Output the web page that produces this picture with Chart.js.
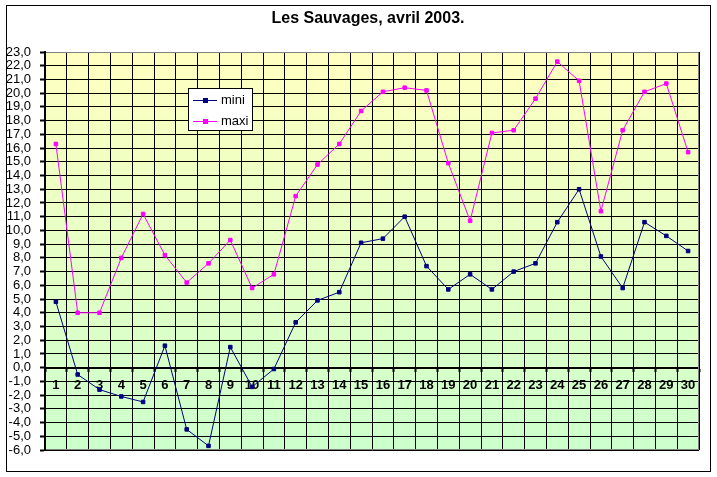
<!DOCTYPE html>
<html>
<head>
<meta charset="utf-8">
<script src="https://cdn.jsdelivr.net/npm/chart.js@4"></script>
<style>
    html, body { margin: 0; padding: 0; background: #fff; }
    #wrap { width: 717px; height: 477px; }
</style>
</head>
<body>
<div id="wrap"><canvas id="chart" width="717" height="477"></canvas></div>
<script>
const titleText = 'Les Sauvages, avril 2003.';
const days = ['1','2','3','4','5','6','7','8','9','10','11','12','13','14','15',
              '16','17','18','19','20','21','22','23','24','25','26','27','28','29','30'];
const mini = [4.8, -0.5, -1.6, -2.1, -2.5, 1.6, -4.5, -5.7, 1.5, -1.4,
              -0.1, 3.3, 4.9, 5.5, 9.1, 9.4, 11.0, 7.4, 5.7, 6.8,
              5.7, 7.0, 7.6, 10.6, 13.0, 8.1, 5.8, 10.6, 9.6, 8.5];
const maxi = [16.3, 4.0, 4.0, 8.0, 11.2, 8.2, 6.2, 7.6, 9.3, 5.8,
              6.8, 12.5, 14.8, 16.3, 18.7, 20.1, 20.4, 20.2, 14.9, 10.7,
              17.1, 17.3, 19.6, 22.3, 20.9, 11.4, 17.3, 20.1, 20.7, 15.7];
const yMin = -6, yMax = 23;

const FONT = "'Liberation Sans', Arial, sans-serif";
Chart.defaults.color = '#000';
Chart.defaults.font.family = FONT;

// background gradient, grey plot frame, boxed legend and outer border
const frame = {
    id: 'frame',
    afterLayout(chart) {
        // centre the title over the plot area like the original
        if (chart.titleBlock) chart.titleBlock.left = 37;
    },
    beforeDraw(chart) {
        const {ctx, chartArea: a} = chart;
        const g = ctx.createLinearGradient(0, a.top, 0, a.bottom);
        g.addColorStop(0, '#FFFFC0');
        g.addColorStop(1, '#CCFFCC');
        ctx.save();
        ctx.fillStyle = g;
        ctx.fillRect(a.left, a.top, a.right - a.left, a.bottom - a.top);
        ctx.restore();
    },
    beforeDatasetsDraw(chart) {
        const {ctx, chartArea: a} = chart;
        ctx.save();
        ctx.strokeStyle = '#808080';
        ctx.lineWidth = 1;
        ctx.beginPath();
        ctx.moveTo(a.left + 1, a.top + 0.5);
        ctx.lineTo(a.right - 0.5, a.top + 0.5);
        ctx.lineTo(a.right - 0.5, a.bottom - 0.5);
        ctx.lineTo(a.left + 1, a.bottom - 0.5);
        ctx.stroke();
        ctx.restore();
    },
    afterDatasetsDraw(chart) {
        const ctx = chart.ctx;
        const x = 188, y = 88, w = 64, h = 42;
        ctx.save();
        ctx.fillStyle = '#fff';
        ctx.fillRect(x, y, w, h);
        ctx.strokeStyle = '#000';
        ctx.lineWidth = 1;
        ctx.strokeRect(x + 0.5, y + 0.5, w, h);
        ctx.font = '13px ' + FONT;
        ctx.textBaseline = 'middle';
        chart.data.datasets.forEach((ds, i) => {
            const ly = y + 12.5 + i * 21;
            ctx.strokeStyle = ds.borderColor;
            ctx.beginPath();
            ctx.moveTo(x + 5, ly);
            ctx.lineTo(x + 29, ly);
            ctx.stroke();
            ctx.fillStyle = ds.borderColor;
            ctx.fillRect(x + 15, ly - 2.5, 5, 5);
            ctx.fillStyle = '#000';
            ctx.fillText(ds.label, x + 33, ly);
        });
        ctx.restore();
    },
    afterDraw(chart) {
        const ctx = chart.ctx;
        ctx.save();
        ctx.strokeStyle = '#000';
        ctx.lineWidth = 1;
        ctx.strokeRect(6.5, 5.5, 704, 466);
        ctx.restore();
    }
};

const lineSet = (label, data, color) => ({
    label, data,
    borderColor: color,
    backgroundColor: color,
    borderWidth: 1,
    tension: 0,
    pointStyle: 'rect',
    pointRadius: 2.5,
    pointBorderWidth: 1,
    pointBackgroundColor: color,
    pointBorderColor: color
});

new Chart(document.getElementById('chart'), {
    type: 'line',
    data: {
        labels: days,
        datasets: [
            lineSet('mini', mini, '#000080'),
            lineSet('maxi', maxi, '#FF00FF')
        ]
    },
    options: {
        responsive: false,
        animation: false,
        events: [],
        layout: { padding: { left: 0, right: 18, top: 0, bottom: 27 } },
        plugins: {
            legend: { display: false },
            tooltip: { enabled: false },
            title: {
                display: true,
                text: titleText,
                color: '#000',
                font: { size: 16, weight: 'bold', family: FONT },
                padding: { top: 9, bottom: 23.8 }
            }
        },
        scales: {
            x: {
                type: 'category',
                position: { y: 0 },
                offset: true,
                grid: { offset: true, color: '#000', lineWidth: 1, tickLength: 3, tickWidth: 2, tickColor: '#000' },
                border: { color: '#000', width: 2 },
                ticks: { autoSkip: false, maxRotation: 0, padding: 7, font: { size: 13, weight: 'bold' }, color: '#000' }
            },
            y: {
                min: yMin,
                max: yMax,
                afterFit: s => { s.width = 45; },
                grid: { color: '#000', lineWidth: 1, tickLength: 5, tickWidth: 2, tickColor: '#000' },
                border: { color: '#000', width: 2 },
                ticks: {
                    stepSize: 1,
                    autoSkip: false,
                    padding: 9,
                    font: { size: 13 },
                    color: '#000',
                    callback: v => v.toFixed(1).replace('.', ',')
                }
            }
        }
    },
    plugins: [frame]
});
</script>
</body>
</html>
